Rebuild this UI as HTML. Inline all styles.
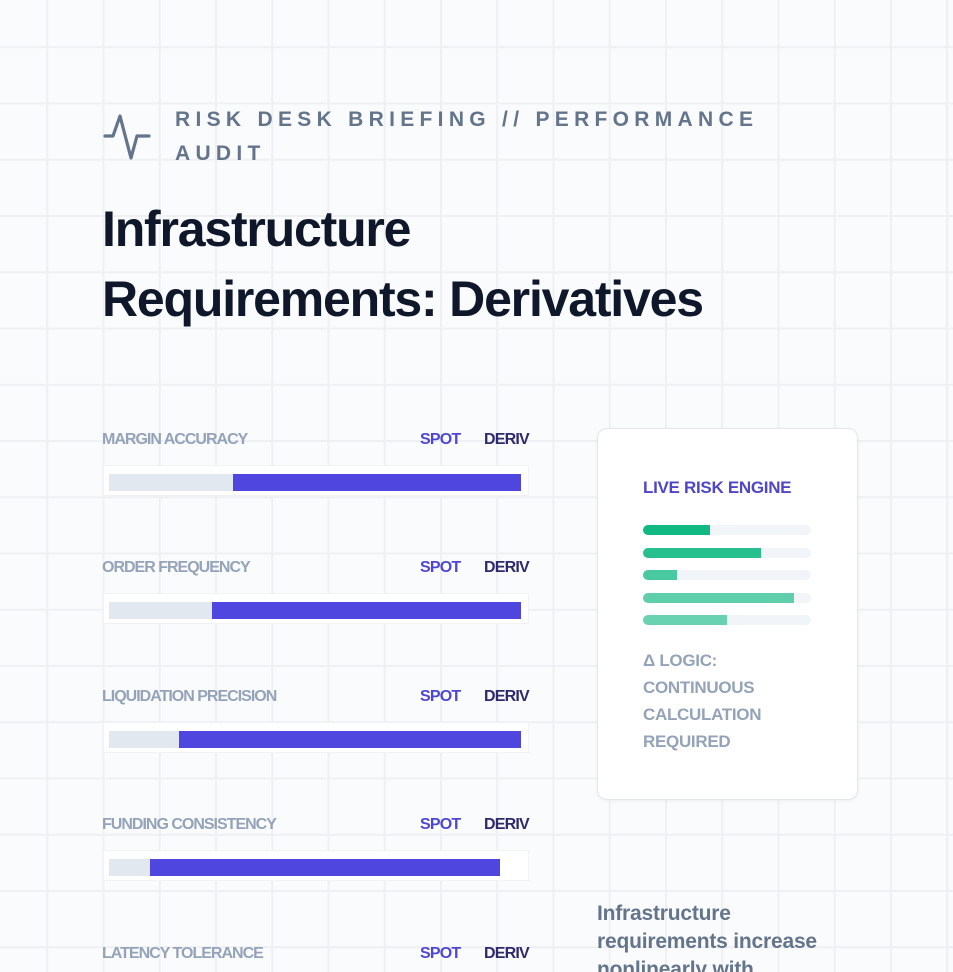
<!DOCTYPE html>
<html><head><meta charset="utf-8"><style>
html,body{margin:0;padding:0;width:953px;height:972px;overflow:hidden;background:#fafbfc;}
body{position:relative;font-family:"Liberation Sans",sans-serif;
background-image:linear-gradient(#eef0f3 2px,transparent 2px),linear-gradient(90deg,#eef0f3 2px,transparent 2px);
background-size:56.25px 56.25px;background-position:-10px -10px;}
.abs{position:absolute;}
.sub{left:175px;top:103px;font-size:21px;font-weight:bold;letter-spacing:5.3px;color:#64748b;line-height:34px;}
.h1{left:102px;top:194px;font-size:50px;font-weight:bold;color:#0f172a;line-height:70px;letter-spacing:-1.2px;}
.lbl{font-size:16px;font-weight:bold;color:#94a3b8;letter-spacing:-1px;}
.spot{font-size:16px;font-weight:bold;color:#5046d6;letter-spacing:-0.8px;}
.deriv{font-size:16px;font-weight:bold;color:#2e2a6b;letter-spacing:-0.8px;}
.track{background:#fff;border:1px solid #f0f2f5;}
.card{left:597px;top:428px;width:259px;height:370px;background:#fff;border:1px solid #e3e6ea;border-radius:10px;box-shadow:0 1px 3px rgba(0,0,0,0.05);}
.ct{left:45px;top:49px;font-size:17px;font-weight:bold;color:#4f46c8;letter-spacing:-0.3px;}
.logic{left:45px;top:218px;font-size:17px;font-weight:bold;color:#94a3b8;line-height:27px;letter-spacing:-0.3px;}
.note{left:597px;top:900px;font-size:21px;font-weight:bold;color:#64748b;line-height:28px;letter-spacing:-0.2px;width:240px;}
</style></head><body>
<svg class="abs" style="left:103px;top:112px" width="50" height="50" viewBox="0 0 50 50">
<polyline points="2,24 10,24 17,4 28,46 34,24 46,24" fill="none" stroke="#64748b" stroke-width="3.2" stroke-linecap="round" stroke-linejoin="round"/></svg>
<div class="abs sub">RISK DESK BRIEFING // PERFORMANCE<br>AUDIT</div>
<div class="abs h1">Infrastructure<br>Requirements: Derivatives</div>
<div id="rows"></div>
<div class="abs card">
<div class="abs ct">LIVE RISK ENGINE</div>
<div id="engine"></div>
<div class="abs logic">Δ LOGIC:<br>CONTINUOUS<br>CALCULATION<br>REQUIRED</div>
</div>
<div class="abs note">Infrastructure requirements increase nonlinearly with</div>
<script>
const categories=["MARGIN ACCURACY","ORDER FREQUENCY","LIQUIDATION PRECISION","FUNDING CONSISTENCY","LATENCY TOLERANCE"];
const spotValues=[30,25,17,10,20];
const derivValues=[100,100,100,95,90];
const engineValues=[40,70,20,90,50];
const engineOpacity=[1,0.9,0.75,0.65,0.6];
const x0=109,w=412;
function xs(v){return x0+v/100*w;}
const rows=document.getElementById('rows');
categories.forEach((c,i)=>{
 const top=431+i*128.4;
 const l=document.createElement('div');l.className='abs lbl';l.style.left='102px';l.style.top=top+'px';l.textContent=c;
 
 
 rows.appendChild(l);
 const s=document.createElement('div');s.className='abs spot';s.style.left='420px';s.style.top=top+'px';s.textContent='SPOT';
 
 
 rows.appendChild(s);
 const d=document.createElement('div');d.className='abs deriv';d.style.left='484px';d.style.top=top+'px';d.textContent='DERIV';
 
 
 rows.appendChild(d);
 const t=document.createElement('div');t.className='abs track';t.style.cssText+='left:103px;top:'+(top+34)+'px;width:424px;height:29px;';
 
 
 rows.appendChild(t);
 const g=document.createElement('div');g.className='abs';g.style.cssText='left:'+x0+'px;top:'+(top+43)+'px;width:'+(xs(spotValues[i])-x0)+'px;height:17px;background:#e2e8f0;';
 
 
 rows.appendChild(g);
 const b=document.createElement('div');b.className='abs';b.style.cssText='left:'+xs(spotValues[i])+'px;top:'+(top+43)+'px;width:'+(xs(derivValues[i])-xs(spotValues[i]))+'px;height:17px;background:#4f46e0;';
 
 
 rows.appendChild(b);
});
const eng=document.getElementById('engine');
engineValues.forEach((v,i)=>{
 const tr=document.createElement('div');tr.className='abs';tr.style.cssText='left:45px;top:'+(96+i*22.5)+'px;width:168px;height:10px;border-radius:5px;background:#f1f5f9;';
 
 
 eng.appendChild(tr);
 const f=document.createElement('div');f.className='abs';f.style.cssText='left:45px;top:'+(96+i*22.5)+'px;width:'+(168*v/100)+'px;height:10px;border-radius:5px 0 0 5px;background:#10b981;opacity:'+engineOpacity[i]+';';
 
 
 eng.appendChild(f);
});
</script>
</body></html>
